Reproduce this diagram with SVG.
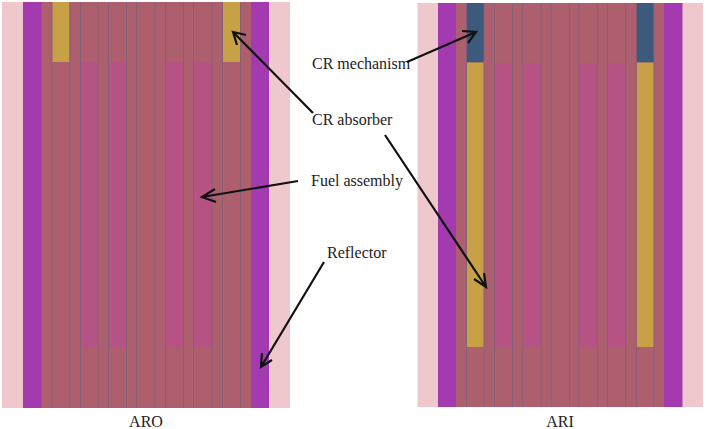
<svg xmlns="http://www.w3.org/2000/svg" width="706" height="429" viewBox="0 0 706 429">
<style>
.refl{fill:#eec8cd}.pur{fill:#a33ab0}.core{fill:#ad5f6e}.abs{fill:#c8a045}.mech{fill:#3d5a7d}.fuel{fill:#b65384}
.l{stroke:#85607a;stroke-width:1;fill:none}
text{font-family:"Liberation Serif","Times New Roman",serif;font-size:16px;fill:#222}
.a{stroke:#111;stroke-width:2.200;fill:none}
</style>
<rect width="706" height="429" fill="#fff"/>
<g id="ARO-core">
<rect class="refl" x="2" y="2" width="288" height="406"/>
<rect class="pur" x="23" y="2" width="246" height="406"/>
<rect class="core" x="41.500" y="2" width="209.500" height="406"/>
<rect class="abs" x="52" y="2" width="17.500" height="60"/>
<rect class="abs" x="223" y="2" width="17.500" height="60"/>
<rect class="fuel" x="81" y="62" width="17" height="286"/>
<rect class="fuel" x="109" y="62" width="17.500" height="286"/>
<rect class="fuel" x="166" y="62" width="17.500" height="286"/>
<rect class="fuel" x="194" y="62" width="18" height="286"/>
<path class="l" d="M52 2V408M70 2V408M80.500 2V408M98 2V408M108.500 2V408M126.500 2V408M136.500 2V408M155 2V408M165.500 2V408M183.500 2V408M193.500 2V408M212 2V408M222.500 2V408M240.500 2V408"/>
</g>
<g id="ARI-core">
<rect class="refl" x="417.500" y="3" width="285.500" height="404"/>
<rect class="pur" x="438" y="3" width="244.500" height="404"/>
<rect class="core" x="456" y="3" width="208" height="404"/>
<rect class="mech" x="466.500" y="3" width="17.500" height="59.500"/>
<rect class="mech" x="636.500" y="3" width="17.500" height="59.500"/>
<rect class="abs" x="466.500" y="62.500" width="17.500" height="284.500"/>
<rect class="abs" x="636.500" y="62.500" width="17.500" height="284.500"/>
<rect class="fuel" x="495" y="63" width="17.500" height="284"/>
<rect class="fuel" x="523" y="63" width="18" height="284"/>
<rect class="fuel" x="579.500" y="63" width="17.500" height="284"/>
<rect class="fuel" x="608" y="63" width="17.500" height="284"/>
<path class="l" d="M466.500 3V407M484 3V407M494.500 3V407M512.500 3V407M522.700 3V407M541 3V407M551 3V407M569.300 3V407M579 3V407M597.300 3V407M607.300 3V407M625.700 3V407M636.300 3V407M654 3V407"/>
</g>
<g id="labels">
<text x="312" y="69">CR mechanism</text>
<text x="312" y="125">CR absorber</text>
<text x="311" y="186">Fuel assembly</text>
<text x="327" y="258">Reflector</text>
<text x="146" y="427" text-anchor="middle">ARO</text>
<text x="560" y="427" text-anchor="middle">ARI</text>
</g>
<g id="connectors">
<path class="a" d="M313 113L233 32M246 35L233 32L237 45"/>
<path class="a" d="M407 62L476 32M462 31L476 32L468 43"/>
<path class="a" d="M385 135L486 287M474 279L486 287L484 273"/>
<path class="a" d="M298 181L202 197M215 189L202 197L216 202"/>
<path class="a" d="M324 262L261 367M272 360L261 367L262 353"/>
</g>
</svg>
